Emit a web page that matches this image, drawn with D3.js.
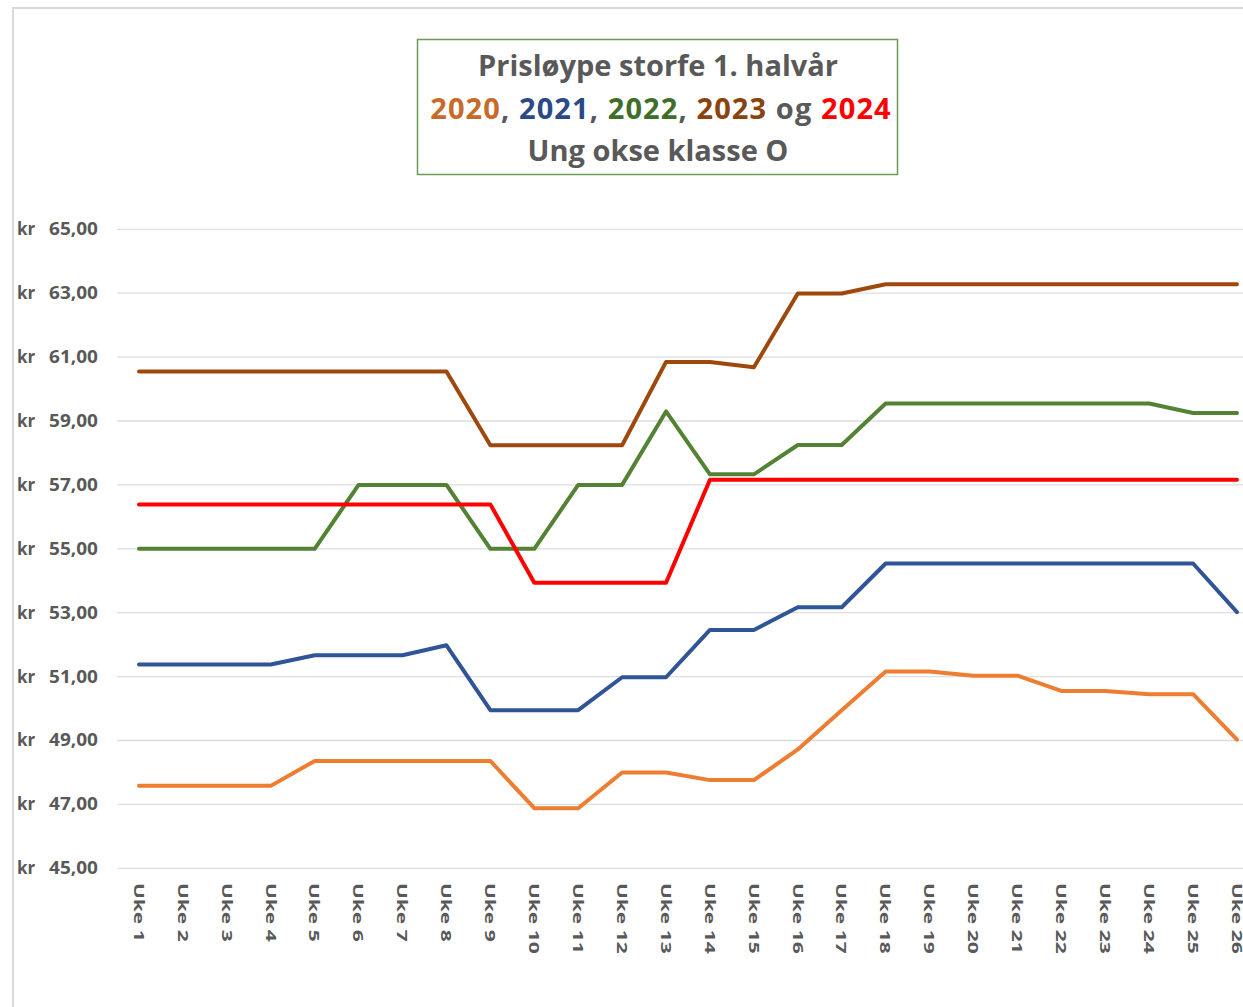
<!DOCTYPE html>
<html><head><meta charset="utf-8">
<script src="https://cdn.jsdelivr.net/npm/d3@7"></script>
<style>body{margin:0;background:#fff;overflow:hidden}svg{display:block}</style>
</head><body>
<script>
const weeks = d3.range(1, 27).map(i => "Uke " + i);
const yTicks = [45, 47, 49, 51, 53, 55, 57, 59, 61, 63, 65];
const s2020 = [47.58,47.58,47.58,47.58,48.36,48.36,48.36,48.36,48.36,46.88,46.88,48.0,48.0,47.76,47.76,48.72,49.95,51.16,51.16,51.03,51.03,50.55,50.55,50.45,50.45,49.03];
const s2021 = [51.38,51.38,51.38,51.38,51.67,51.67,51.67,51.98,49.95,49.95,49.95,50.98,50.98,52.46,52.46,53.17,53.17,54.54,54.54,54.54,54.54,54.54,54.54,54.54,54.54,53.02];
const s2022 = [55.0,55.0,55.0,55.0,55.0,57.0,57.0,57.0,55.0,55.0,57.0,57.0,59.3,57.33,57.33,58.25,58.25,59.55,59.55,59.55,59.55,59.55,59.55,59.55,59.25,59.25];
const s2023 = [60.55,60.55,60.55,60.55,60.55,60.55,60.55,60.55,58.24,58.24,58.24,58.24,60.85,60.85,60.68,62.99,62.99,63.28,63.28,63.28,63.28,63.28,63.28,63.28,63.28,63.28];
const s2024 = [56.39,56.39,56.39,56.39,56.39,56.39,56.39,56.39,56.39,53.94,53.94,53.94,53.94,57.16,57.16,57.16,57.16,57.16,57.16,57.16,57.16,57.16,57.16,57.16,57.16,57.16];
const seriesNames = ["2020", "2021", "2022", "2023", "2024"];
const seriesValues = [s2020, s2021, s2022, s2023, s2024];
const lineColors = ["#ED7D31", "#2F5597", "#548235", "#9E480E", "#FF0000"];
const titleColors = ["#C86A2A", "#2B4A85", "#3F6E28", "#8A420F", "#FF0000"];

const W = 1243, H = 1007;
const svg = d3.select("body").append("svg").attr("width", W).attr("height", H);
const font = "'Open Sans', 'Liberation Sans', sans-serif";

// chart area border
svg.append("rect").attr("x", 13).attr("y", 8).attr("width", W + 20).attr("height", H + 20)
  .attr("fill", "none").attr("stroke", "#d9d9d9").attr("stroke-width", 2);

const x = d3.scalePoint().domain(weeks).range([139, 1237]);
const y = d3.scaleLinear().domain([45, 65]).range([868.3, 229.3]);

// gridlines
svg.append("g").selectAll("line").data(yTicks).join("line")
  .attr("x1", 117).attr("x2", W).attr("y1", d => y(d)).attr("y2", d => y(d))
  .attr("stroke", "#dedede").attr("stroke-width", 1.3);

// y labels
const yl = svg.append("g").attr("font-family", font).attr("font-size", 17).attr("font-weight", 700).attr("fill", "#595959");
yl.selectAll("text.kr").data(yTicks).join("text").attr("class","kr")
  .attr("x", 17).attr("y", d => y(d)).attr("dy", "0.35em").text("kr");
yl.selectAll("text.v").data(yTicks).join("text").attr("class","v")
  .attr("transform", d => `translate(98,${y(d)}) scale(1.12,1)`)
  .attr("dy", "0.35em").attr("text-anchor", "end")
  .text(d => d3.format(".2f")(d).replace(".", ","));

// x labels
svg.append("g").attr("font-family", font).attr("font-size", 15).attr("font-weight", 700).attr("fill", "#595959")
  .selectAll("text").data(weeks).join("text")
  .attr("transform", d => `translate(${x(d)},883) rotate(90) scale(1.4,1)`)
  .attr("dy", "0.35em").attr("text-anchor", "start").text(d => d);

// lines
const line = d3.line().x((d, i) => x(weeks[i])).y(d => y(d));
svg.append("g").selectAll("path").data(seriesValues).join("path")
  .attr("d", d => line(d)).attr("fill", "none")
  .attr("stroke", (d, i) => lineColors[i]).attr("stroke-width", 4)
  .attr("stroke-linejoin", "round").attr("stroke-linecap", "round");

// title box
svg.append("rect").attr("x", 417.5).attr("y", 39.5).attr("width", 480).attr("height", 135)
  .attr("fill", "#fff").attr("stroke", "#6a9a55").attr("stroke-width", 1.5);
const tg = svg.append("g").attr("font-family", font).attr("font-size", 29).attr("font-weight", 700)
  .attr("text-anchor", "middle").attr("fill", "#595959");
tg.append("text").attr("x", 658).attr("y", 76).text("Prisløype storfe 1. halvår");
const t2 = tg.append("text").attr("x", 661).attr("y", 119).attr("letter-spacing", 1.1);
seriesNames.forEach((n, i) => {
  t2.append("tspan").attr("fill", titleColors[i]).text(n);
  if (i < 3) t2.append("tspan").text(", ");
  else if (i === 3) t2.append("tspan").text(" og ");
});
tg.append("text").attr("x", 658).attr("y", 161).text("Ung okse klasse O");
</script>
</body></html>
